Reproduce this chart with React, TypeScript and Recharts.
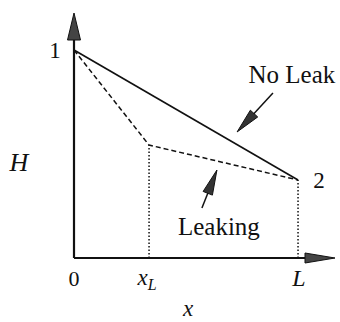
import React from 'react';
import { ComposedChart, Line, XAxis, YAxis, ReferenceLine, ReferenceDot } from 'recharts';

// Data (x in units of L, H normalised to H1 = 1)
const noLeakX = [0, 1];
const noLeakH = [1, 0.375];
const leakX = [0, 0.335, 1];
const leakH = [1, 0.543, 0.375];
const tickValues = [0, 0.335, 1];
const tickLabels = ['0', 'xL', 'L'];
const xMax = 1.165;
const yMax = 1.178;

const noLeakData = noLeakX.map((x, i) => ({ x, y: noLeakH[i] }));
const leakData = leakX.map((x, i) => ({ x, y: leakH[i] }));

const FONT = '"Liberation Serif", "Times New Roman", "DejaVu Serif", serif';
const INK = '#111';

const makeArrow = (headLen: number, halfW: number, sw: number, fill: string) => (p: any) => {
  const { x1, y1, x2, y2 } = p;
  const dx = x2 - x1;
  const dy = y2 - y1;
  const len = Math.sqrt(dx * dx + dy * dy) || 1;
  const ux = dx / len;
  const uy = dy / len;
  const bx = x2 - ux * headLen;
  const by = y2 - uy * headLen;
  const nx = -uy;
  const ny = ux;
  const pts = `${x2},${y2} ${bx + nx * halfW},${by + ny * halfW} ${bx - nx * halfW},${by - ny * halfW}`;
  return (
    <g>
      <line x1={x1} y1={y1} x2={bx + ux * 2} y2={by + uy * 2} stroke={INK} strokeWidth={sw} />
      <polygon points={pts} fill={fill} stroke={INK} strokeWidth={1} />
    </g>
  );
};

const textShape = (txt: string, dx: number, dy: number, size: number, italic = false) => (p: any) => (
  <text
    x={p.cx + dx}
    y={p.cy + dy}
    textAnchor="middle"
    style={{ fontFamily: FONT, fontSize: size, fontStyle: italic ? 'italic' : 'normal' }}
    fill={INK}
  >
    {txt}
  </text>
);

const Tick = (props: any) => {
  const { x, y, payload } = props;
  const idx = tickValues.indexOf(payload.value);
  const lab = tickLabels[idx];
  const base = y + 20;
  if (lab === 'xL') {
    return (
      <text x={x - 2} y={base - 1} textAnchor="middle" fill={INK} style={{ fontFamily: FONT, fontStyle: 'italic' }}>
        <tspan style={{ fontSize: 23 }}>x</tspan>
        <tspan style={{ fontSize: 16 }} dy={5}>L</tspan>
      </text>
    );
  }
  return (
    <text
      x={x + (lab === 'L' ? 1 : 0)}
      y={base}
      textAnchor="middle"
      fill={INK}
      style={{ fontFamily: FONT, fontSize: lab === 'L' ? 24 : 22, fontStyle: lab === 'L' ? 'italic' : 'normal' }}
    >
      {lab}
    </text>
  );
};

export default function App() {
  return (
    <div style={{ position: 'absolute', left: 0, top: 0, background: '#fff' }}>
      <ComposedChart
        width={340}
        height={322}
        margin={{ top: 13, right: 5, left: 74, bottom: 0 }}
      >
        <XAxis
          dataKey="x"
          type="number"
          domain={[0, xMax]}
          ticks={tickValues}
          tick={<Tick />}
          tickLine={false}
          axisLine={false}
          height={64}
          allowDataOverflow
        />
        <YAxis type="number" domain={[0, yMax]} hide allowDataOverflow />

        {/* dotted verticals */}
        <ReferenceLine
          segment={[{ x: leakX[1], y: 0 }, { x: leakX[1], y: leakH[1] }]}
          stroke={INK}
          strokeWidth={1.5}
          strokeDasharray="1.5 2"
        />
        <ReferenceLine
          segment={[{ x: leakX[2], y: 0 }, { x: leakX[2], y: leakH[2] }]}
          stroke={INK}
          strokeWidth={1.5}
          strokeDasharray="1.5 2"
        />

        <Line
          data={noLeakData}
          dataKey="y"
          type="linear"
          stroke={INK}
          strokeWidth={1.6}
          dot={false}
          activeDot={false}
          isAnimationActive={false}
        />
        <Line
          data={leakData}
          dataKey="y"
          type="linear"
          stroke={INK}
          strokeWidth={1.5}
          strokeDasharray="5 3"
          dot={false}
          activeDot={false}
          isAnimationActive={false}
        />

        {/* axes with arrowheads */}
        <ReferenceLine
          segment={[{ x: 0, y: 0 }, { x: xMax, y: 0 }]}
          ifOverflow="visible"
          shape={makeArrow(30, 5, 2.2, '#444')}
        />
        <ReferenceLine
          segment={[{ x: 0, y: 0 }, { x: 0, y: yMax }]}
          ifOverflow="visible"
          shape={makeArrow(27, 6.5, 2.2, '#444')}
        />

        {/* annotation arrows */}
        <ReferenceLine
          segment={[{ x: 0.888, y: 0.793 }, { x: 0.728, y: 0.606 }]}
          ifOverflow="visible"
          shape={makeArrow(25, 5, 1.5, '#333')}
        />
        <ReferenceLine
          segment={[{ x: 0.571, y: 0.24 }, { x: 0.638, y: 0.423 }]}
          ifOverflow="visible"
          shape={makeArrow(25, 5, 1.5, '#333')}
        />

        {/* text labels */}
        <ReferenceDot x={0} y={1} r={0} ifOverflow="visible" shape={textShape('1', -19, 8, 23)} />
        <ReferenceDot x={1} y={0.375} r={0} ifOverflow="visible" shape={textShape('2', 21, 8, 23)} />
        <ReferenceDot x={0.888} y={0.793} r={0} ifOverflow="visible" shape={textShape('No Leak', 19, -10, 25)} />
        <ReferenceDot x={0.571} y={0.24} r={0} ifOverflow="visible" shape={textShape('Leaking', 17, 27, 25)} />
        <ReferenceDot x={0} y={0.418} r={0} ifOverflow="visible" shape={textShape('H', -55, 0, 26, true)} />
        <ReferenceDot x={0.509} y={0} r={0} ifOverflow="visible" shape={textShape('x', 0, 58, 23, true)} />
      </ComposedChart>
    </div>
  );
}
